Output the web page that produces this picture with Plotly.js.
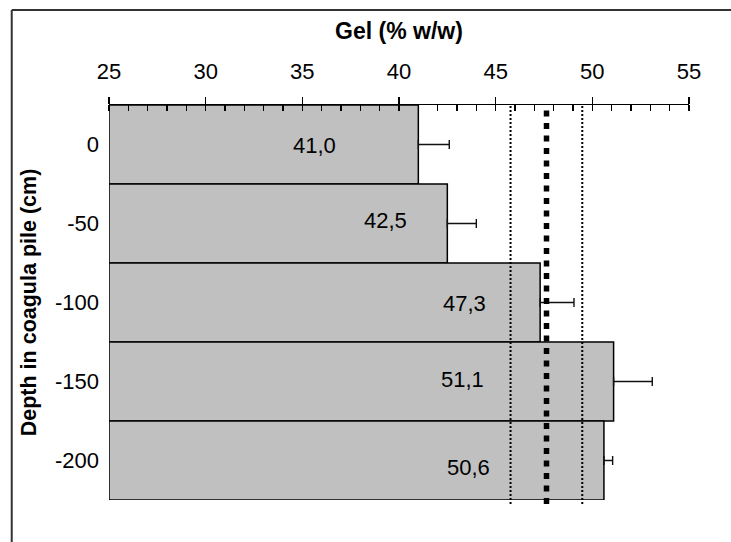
<!DOCTYPE html>
<html>
<head>
<meta charset="utf-8">
<script src="https://cdn.plot.ly/plotly-3.0.1.min.js"></script>
<style>html,body{margin:0;padding:0;background:#fff;}#chart{width:731px;height:542px;}</style>
</head>
<body>
<div id="chart"></div>
<script>
// Data
const depths = ['0', '-50', '-100', '-150', '-200'];
const gelValues = [41.0, 42.5, 47.3, 51.1, 50.6];
const gelErrors = [1.6, 1.5, 1.75, 2.0, 0.45];
const valueLabels = ['41,0', '42,5', '47,3', '51,1', '50,6'];
const labelX = [35.64, 39.31, 43.37, 43.31, 43.57];
const labelShift = [-1, 3, -1, 2, -7];
const meanGel = 47.63;
const lowerGel = 45.77;
const upperGel = 49.48;
const axisMin = 25;

const FONT = 'Liberation Sans, Arial, sans-serif';

const barTrace = {
  type: 'bar',
  orientation: 'h',
  y: depths,
  x: gelValues.map(v => v - axisMin),
  base: axisMin,
  marker: {color: '#c0c0c0', line: {color: '#000', width: 1.5}},
  error_x: {type: 'data', symmetric: false, array: gelErrors, arrayminus: gelErrors.map(() => 0), color: '#111', thickness: 1.4, width: 4.5},
  hoverinfo: 'skip'
};

const tickTrace = {type: 'scatter', x: [], y: [], xaxis: 'x2', yaxis: 'y', showlegend: false, hoverinfo: 'skip'};

const annotations = valueLabels.map((t, i) => ({
  x: labelX[i], y: i, xref: 'x', yref: 'y', text: t, showarrow: false,
  yshift: labelShift[i], font: {family: FONT, size: 22, color: '#000'}
}));

const shapes = [
  {type: 'line', xref: 'x', yref: 'paper', x0: lowerGel, x1: lowerGel, y0: -0.01, y1: 1, line: {color: '#000', width: 2, dash: '2px,2px'}},
  {type: 'line', xref: 'x', yref: 'paper', x0: upperGel, x1: upperGel, y0: -0.01, y1: 1, line: {color: '#000', width: 2, dash: '2px,2px'}},
  {type: 'line', xref: 'x', yref: 'paper', x0: meanGel, x1: meanGel, y0: -0.01, y1: 1, line: {color: '#000', width: 5.5, dash: '6px,6.5px'}},
  // outer frame (top and left visible)
  {type: 'line', xref: 'paper', yref: 'paper', x0: -0.1677, x1: 1.1, y0: 1.2405, y1: 1.2405, line: {color: '#333', width: 2}},
  {type: 'line', xref: 'paper', yref: 'paper', x0: -0.1677, x1: -0.1677, y0: 1.2405, y1: -0.2, line: {color: '#333', width: 2}}
];

const layout = {
  width: 731, height: 542,
  margin: {l: 109.3, r: 41.5, t: 105, b: 42},
  paper_bgcolor: '#fff', plot_bgcolor: 'rgba(0,0,0,0)',
  showlegend: false,
  bargap: 0,
  font: {family: FONT, color: '#000'},
  xaxis: {
    side: 'top', range: [25, 55], dtick: 5, tick0: 25,
    ticks: 'outside', ticklen: 7, tickwidth: 1.3, tickcolor: '#000',
    minor: {dtick: 1, ticks: 'inside', ticklen: 6, tickwidth: 1.2, tickcolor: '#000', showgrid: false},
    showline: true, linecolor: '#000', linewidth: 1.5,
    showgrid: false, zeroline: false,
    tickfont: {family: FONT, size: 22, color: '#000'},
    ticklabelstandoff: 9,
    title: {text: '<b>Gel (% w/w)</b>', font: {family: FONT, size: 23, color: '#000'}, standoff: 12},
    layer: 'above traces'
  },
  xaxis2: {
    overlaying: 'x', side: 'top', range: [25, 55], dtick: 5, tick0: 25,
    ticks: 'inside', ticklen: 6, tickwidth: 1.3, tickcolor: '#000',
    showticklabels: false, showline: false, showgrid: false, zeroline: false, anchor: 'y'
  },
  yaxis: {
    type: 'category', range: [4.5, -0.5], autorange: false,
    showline: false, ticks: '', showgrid: false, zeroline: false,
    tickfont: {family: FONT, size: 22, color: '#000'},
    ticklabelstandoff: 9,
    title: {text: '<b>Depth in coagula pile (cm)</b>', font: {family: FONT, size: 21.5, color: '#000'}, standoff: 12}
  },
  annotations: annotations,
  shapes: shapes
};

Plotly.newPlot('chart', [barTrace, tickTrace], layout, {staticPlot: true, displayModeBar: false});
</script>
</body>
</html>
